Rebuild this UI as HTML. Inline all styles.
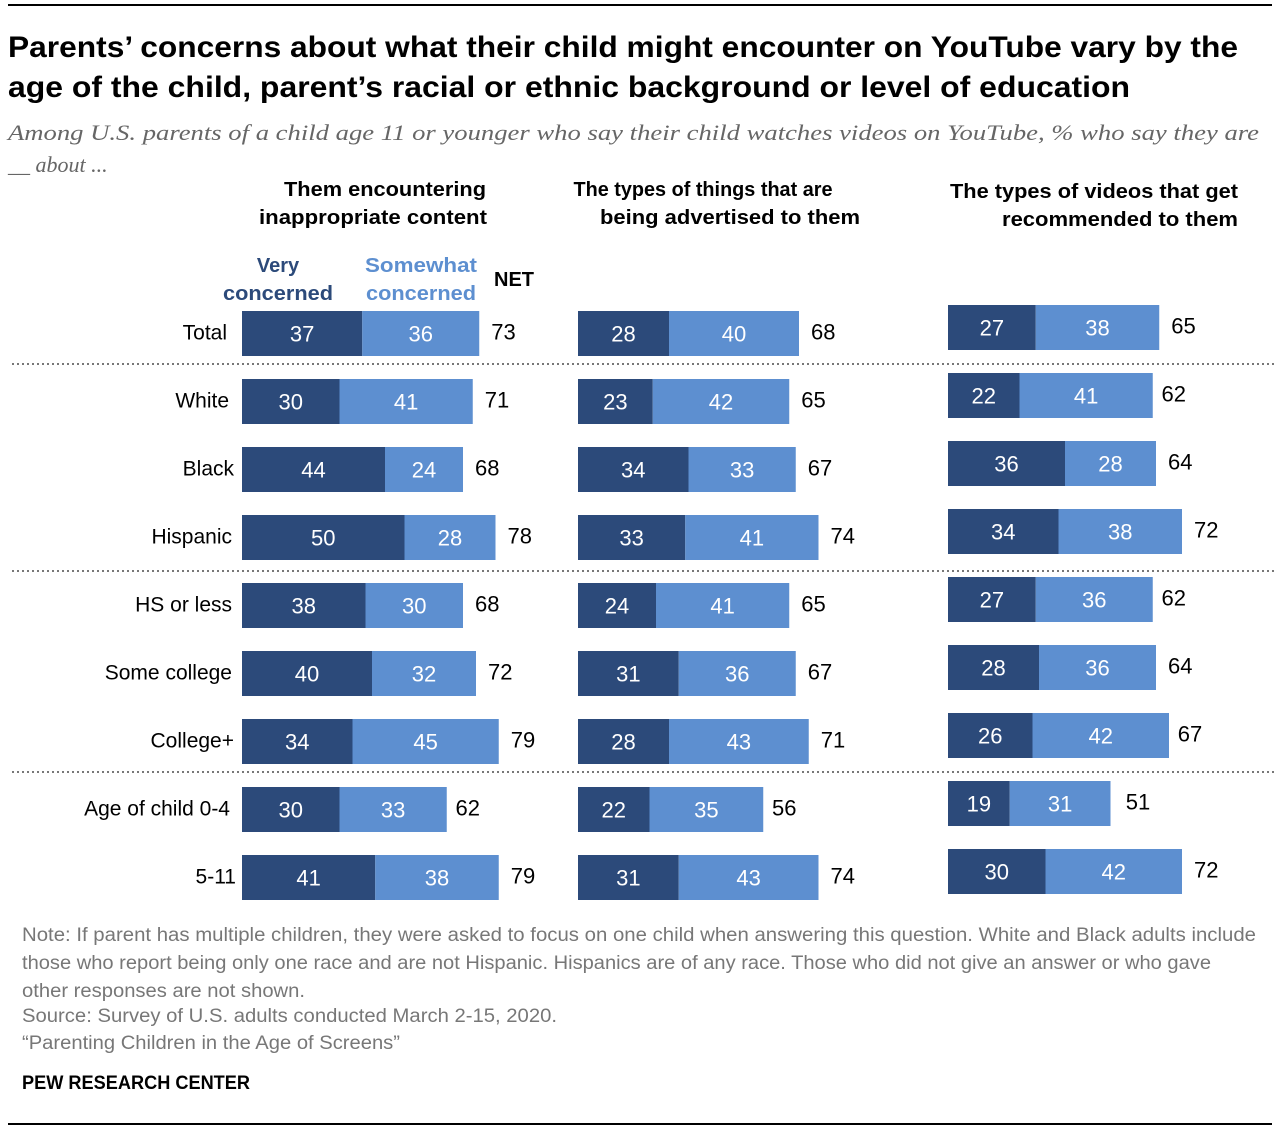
<!DOCTYPE html>
<html><head><meta charset="utf-8"><style>
html,body{margin:0;padding:0;background:#fff}
svg{display:block}
</style></head><body>
<svg id="chart" width="1280" height="1132" viewBox="0 0 1280 1132" xmlns="http://www.w3.org/2000/svg" font-family="Liberation Sans, sans-serif">
<line x1="8" y1="5" x2="1272" y2="5" stroke="#000" stroke-width="2"/>
<text x="8" y="57" font-size="30" font-weight="bold" textLength="1230" lengthAdjust="spacingAndGlyphs">Parents’ concerns about what their child might encounter on YouTube vary by the</text>
<text x="8" y="97" font-size="30" font-weight="bold" textLength="1122" lengthAdjust="spacingAndGlyphs">age of the child, parent’s racial or ethnic background or level of education</text>
<text x="8" y="140" font-size="22" font-style="italic" fill="#666" font-family="Liberation Serif, serif" textLength="1251" lengthAdjust="spacingAndGlyphs">Among U.S. parents of a child age 11 or younger who say their child watches videos on YouTube, % who say they are</text>
<text x="8" y="172" font-size="22" font-style="italic" fill="#666" font-family="Liberation Serif, serif">__ about ...</text>
<g font-weight="bold" font-size="20" text-anchor="middle">
<text x="385" y="196" textLength="202" lengthAdjust="spacingAndGlyphs">Them encountering</text>
<text x="373" y="224" textLength="228" lengthAdjust="spacingAndGlyphs">inappropriate content</text>
<text x="703" y="196" textLength="259" lengthAdjust="spacingAndGlyphs">The types of things that are</text>
<text x="730" y="224" textLength="260" lengthAdjust="spacingAndGlyphs">being advertised to them</text>
<text x="1094" y="198" textLength="288" lengthAdjust="spacingAndGlyphs">The types of videos that get</text>
<text x="1120" y="226" textLength="236" lengthAdjust="spacingAndGlyphs">recommended to them</text>
</g>
<g font-weight="bold" font-size="20" text-anchor="middle">
<text x="278" y="272" fill="#2c4a7a">Very</text>
<text x="278" y="300" fill="#2c4a7a" textLength="110" lengthAdjust="spacingAndGlyphs">concerned</text>
<text x="421" y="272" fill="#5d8fd0" textLength="112" lengthAdjust="spacingAndGlyphs">Somewhat</text>
<text x="421" y="300" fill="#5d8fd0" textLength="110" lengthAdjust="spacingAndGlyphs">concerned</text>
<text x="514" y="286" fill="#000">NET</text>
</g>
<g id="marks"></g>
<g stroke="#777" stroke-width="2" stroke-dasharray="2,3">
<line x1="12" y1="364" x2="1276" y2="364"/>
<line x1="12" y1="571" x2="1276" y2="571"/>
<line x1="12" y1="772" x2="1276" y2="772"/>
</g>
<g font-size="19" fill="#777" lengthAdjust="spacingAndGlyphs">
<text x="22" y="941" textLength="1234" lengthAdjust="spacingAndGlyphs">Note: If parent has multiple children, they were asked to focus on one child when answering this question. White and Black adults include</text>
<text x="22" y="969" textLength="1189" lengthAdjust="spacingAndGlyphs">those who report being only one race and are not Hispanic. Hispanics are of any race. Those who did not give an answer or who gave</text>
<text x="22" y="997" textLength="283" lengthAdjust="spacingAndGlyphs">other responses are not shown.</text>
<text x="22" y="1022" textLength="535" lengthAdjust="spacingAndGlyphs">Source: Survey of U.S. adults conducted March 2-15, 2020.</text>
<text x="22" y="1049" textLength="378" lengthAdjust="spacingAndGlyphs">“Parenting Children in the Age of Screens”</text>
</g>
<text x="22" y="1089" font-size="19" font-weight="bold" fill="#000" textLength="228" lengthAdjust="spacingAndGlyphs">PEW RESEARCH CENTER</text>
<line x1="8" y1="1124" x2="1272" y2="1124" stroke="#000" stroke-width="2"/>
</svg>
<script>
const categories = ["Total","White","Black","Hispanic","HS or less","Some college","College+","Age of child 0-4","5-11"];
const contentVery = [37,30,44,50,38,40,34,30,41];
const contentSomewhat = [36,41,24,28,30,32,45,33,38];
const contentNet = [73,71,68,78,68,72,79,62,79];
const adsVery = [28,23,34,33,24,31,28,22,31];
const adsSomewhat = [40,42,33,41,41,36,43,35,43];
const adsNet = [68,65,67,74,65,67,71,56,74];
const recVery = [27,22,36,34,27,28,26,19,30];
const recSomewhat = [38,41,28,38,36,36,42,31,42];
const recNet = [65,62,64,72,62,64,67,51,72];

const NS = "http://www.w3.org/2000/svg";
const marks = document.getElementById("marks");
const SCALE = 3.25;
const ROW0 = 311, ROWSTEP = 68, BARH = 45;
function xScale(x0, v){ return x0 + v*SCALE; }
function yScale(i, off){ return ROW0 + i*ROWSTEP + off; }
function mk(tag, attrs){ const e=document.createElementNS(NS,tag); for(const k in attrs) e.setAttribute(k, attrs[k]); return e; }

const labelX = [227,229,234,232,232,232,234,230,236];
categories.forEach((c,i)=>{
  const t = mk("text",{x:labelX[i], y:yScale(i,0)+BARH/2+6, "font-size":21, "text-anchor":"end", fill:"#000"});
  
  
  t.textContent = c;
  marks.appendChild(t);
});

const panels = [
  {name:"content", x0:242, off:0, very:contentVery, some:contentSomewhat, net:contentNet},
  {name:"ads", x0:578, off:0, very:adsVery, some:adsSomewhat, net:adsNet},
  {name:"recommended", x0:948, off:-6, very:recVery, some:recSomewhat, net:recNet}
];
panels.forEach(p=>{
  categories.forEach((c,i)=>{
    const y = yScale(i,p.off);
    const xa = p.x0, xb = xScale(p.x0,p.very[i]), xc = xScale(p.x0,p.very[i]+p.some[i]);
    const r1 = mk("rect",{x:xa,y:y,width:xb-xa,height:BARH,fill:"#2c4a7a"});
    
    
    marks.appendChild(r1);
    const r2 = mk("rect",{x:xb,y:y,width:xc-xb,height:BARH,fill:"#5d8fd0"});
    
    
    marks.appendChild(r2);
    const t1 = mk("text",{x:(xa+xb)/2,y:y+BARH/2+8,"font-size":22,"text-anchor":"middle",fill:"#fff"});
    
    
    t1.textContent = p.very[i]; marks.appendChild(t1);
    const t2 = mk("text",{x:(xb+xc)/2,y:y+BARH/2+8,"font-size":22,"text-anchor":"middle",fill:"#fff"});
    
    
    t2.textContent = p.some[i]; marks.appendChild(t2);
    const t3 = mk("text",{x:xScale(p.x0,p.net[i])+12,y:y+BARH/2+6,"font-size":22,fill:"#000"});
    
    
    t3.textContent = p.net[i]; marks.appendChild(t3);
  });
});
</script>
</body></html>
